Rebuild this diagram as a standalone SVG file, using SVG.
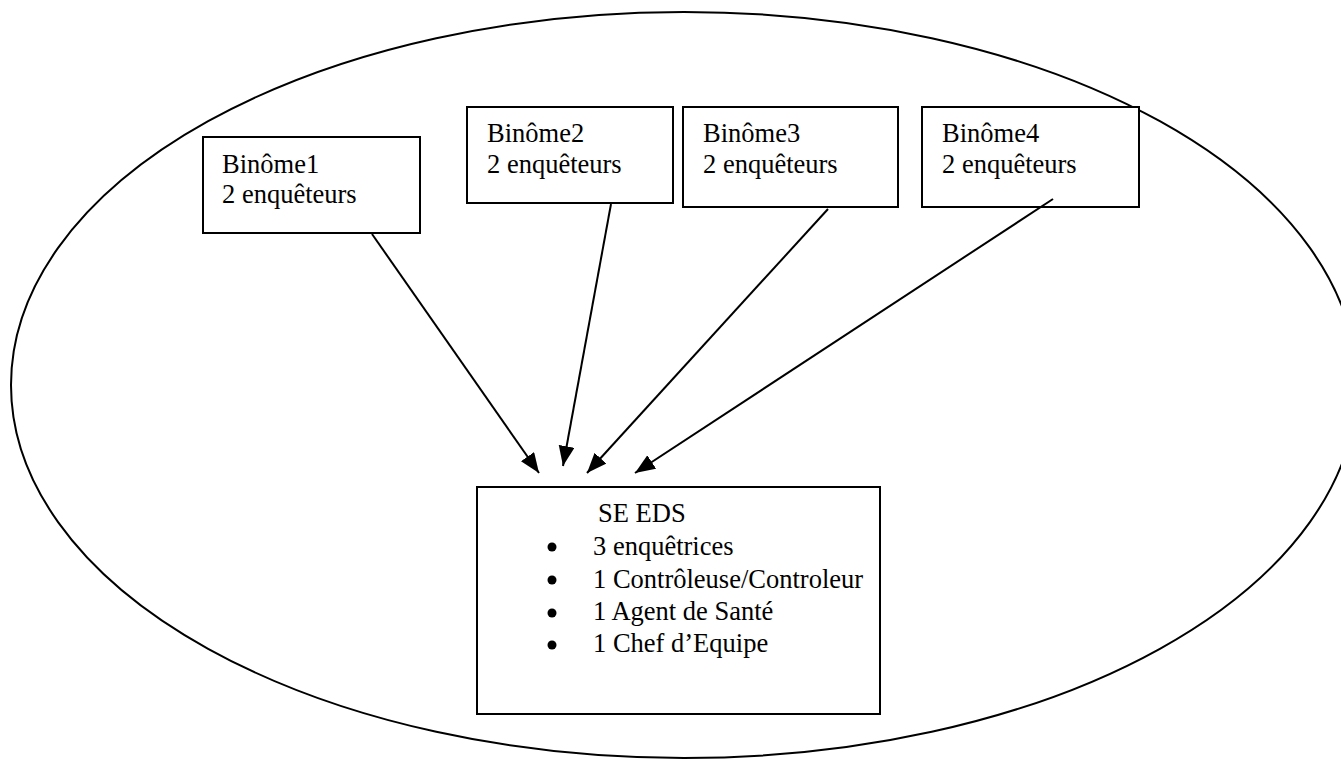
<svg xmlns="http://www.w3.org/2000/svg" width="1341" height="759" viewBox="0 0 1341 759">
<style>
  .box { fill: #fff; stroke: #000; stroke-width: 2; }
  .t { font-family: "Liberation Serif", "Times New Roman", serif; font-size: 26.5px; fill: #000; }
  .conn { stroke: #000; stroke-width: 2; fill: none; marker-end: url(#arr); }
</style>
<defs>
  <marker id="arr" markerUnits="userSpaceOnUse" markerWidth="22" markerHeight="18" refX="20" refY="8" orient="auto">
    <path d="M0,0 L20,8 L0,16 Z" fill="#000"/>
  </marker>
</defs>
<rect width="1341" height="759" fill="#fff"/>
<g id="boundary">
  <ellipse cx="684" cy="385" rx="673" ry="373" fill="none" stroke="#000" stroke-width="2"/>
</g>
<g id="binome1">
  <rect class="box" x="203" y="137" width="217" height="96"/>
  <text class="t" x="222" y="173">Binôme1</text>
  <text class="t" x="222" y="203">2 enquêteurs</text>
</g>
<g id="binome2">
  <rect class="box" x="467" y="107" width="206" height="96"/>
  <text class="t" x="487" y="142">Binôme2</text>
  <text class="t" x="487" y="173">2 enquêteurs</text>
</g>
<g id="binome3">
  <rect class="box" x="683" y="107" width="215" height="100"/>
  <text class="t" x="703" y="142">Binôme3</text>
  <text class="t" x="703" y="173">2 enquêteurs</text>
</g>
<g id="binome4">
  <rect class="box" x="922" y="107" width="217" height="100"/>
  <text class="t" x="942" y="142">Binôme4</text>
  <text class="t" x="942" y="173">2 enquêteurs</text>
</g>
<g id="se-eds">
  <rect class="box" x="477" y="487" width="403" height="227"/>
  <text class="t" x="598" y="522">SE EDS</text>
  <circle cx="552" cy="547" r="4.5" fill="#000"/>
  <circle cx="552" cy="580" r="4.5" fill="#000"/>
  <circle cx="552" cy="613" r="4.5" fill="#000"/>
  <circle cx="552" cy="645" r="4.5" fill="#000"/>
  <text class="t" x="593" y="555">3 enquêtrices</text>
  <text class="t" x="593" y="588">1 Contrôleuse/Controleur</text>
  <text class="t" x="593" y="620">1 Agent de Santé</text>
  <text class="t" x="593" y="652">1 Chef d’Equipe</text>
</g>
<g id="connectors">
  <line class="conn" x1="372" y1="234" x2="539" y2="473"/>
  <line class="conn" x1="611" y1="204" x2="563" y2="466"/>
  <line class="conn" x1="828" y1="209" x2="587" y2="473"/>
  <line class="conn" x1="1053" y1="199" x2="635" y2="473"/>
</g>
</svg>
